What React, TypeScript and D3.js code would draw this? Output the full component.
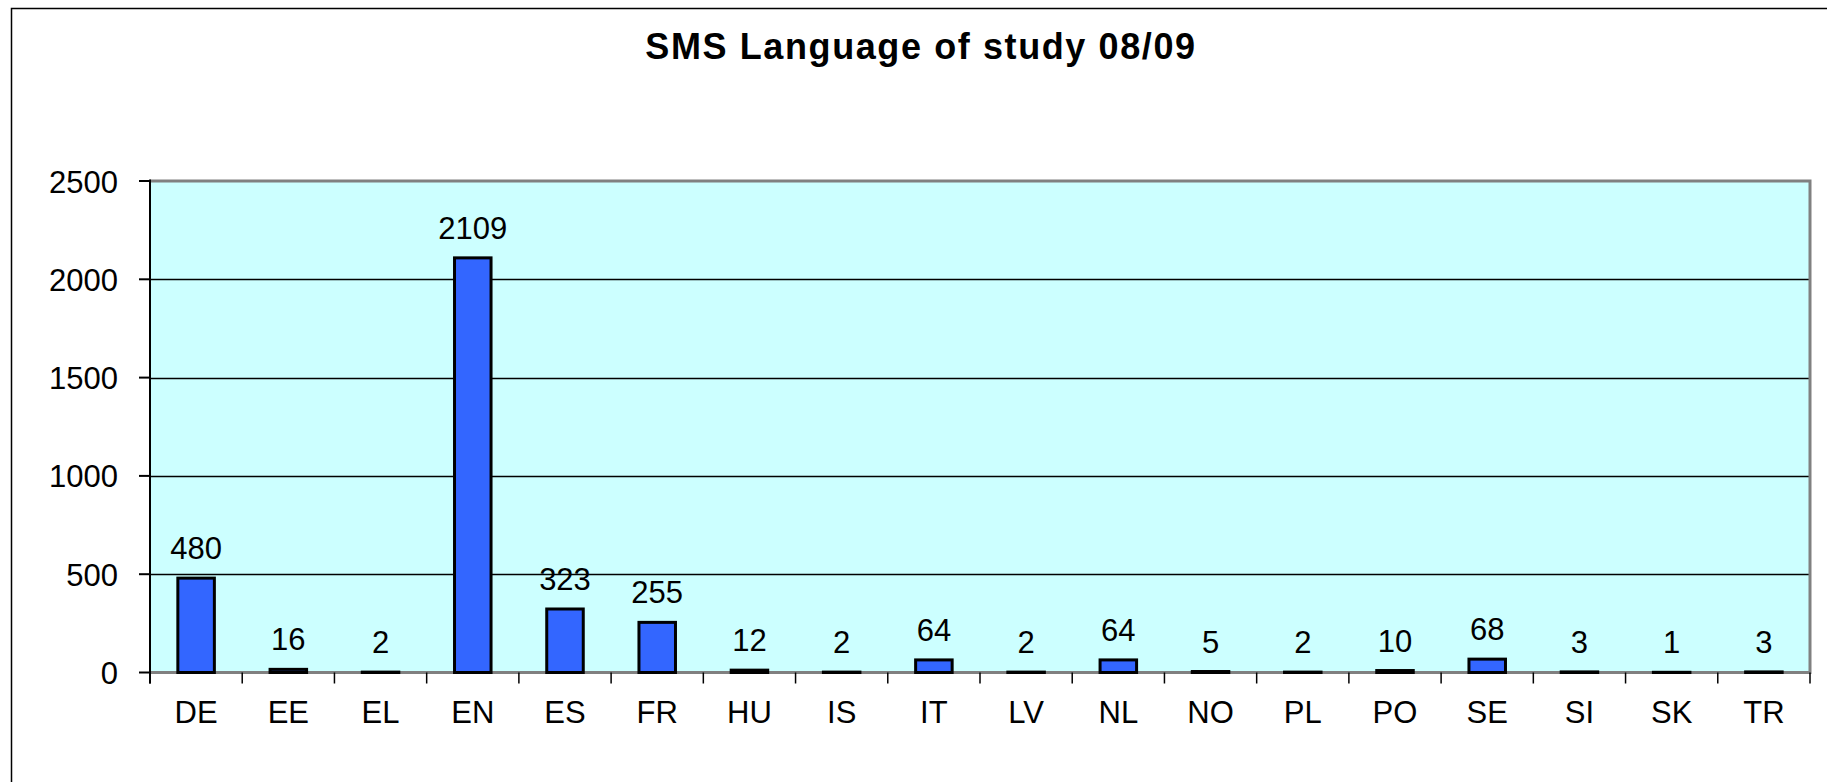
import React, { useEffect, useRef } from 'react'
import * as d3 from 'd3'

const languages = ['DE', 'EE', 'EL', 'EN', 'ES', 'FR', 'HU', 'IS', 'IT', 'LV', 'NL', 'NO', 'PL', 'PO', 'SE', 'SI', 'SK', 'TR']
const students = [480, 16, 2, 2109, 323, 255, 12, 2, 64, 2, 64, 5, 2, 10, 68, 3, 1, 3]
const yTicks = [0, 500, 1000, 1500, 2000, 2500]

const App = () => {
    const chartRef = useRef<SVGSVGElement>(null)

    useEffect(() => {
        const W = 1827
        const H = 782
        const plot = { left: 150, right: 1810, top: 181, bottom: 672.5 }
        const font = '"Liberation Sans", Arial, sans-serif'

        const svg = d3.select(chartRef.current)
        svg.selectAll('*').remove()

        svg.append('rect')
            .attr('width', W)
            .attr('height', H)
            .attr('fill', '#fff')

        // chart frame
        svg.append('rect')
            .attr('x', 11.5)
            .attr('y', 8.5)
            .attr('width', W + 20)
            .attr('height', H + 20)
            .attr('fill', 'none')
            .attr('stroke', '#000')
            .attr('stroke-width', 1.5)

        svg.append('text')
            .attr('x', 921)
            .attr('y', 59)
            .attr('text-anchor', 'middle')
            .attr('font-family', font)
            .attr('font-weight', 'bold')
            .attr('font-size', 36)
            .attr('letter-spacing', 1.6)
            .text('SMS Language of study 08/09')

        const x = d3.scaleBand()
            .domain(languages)
            .range([plot.left, plot.right])
            .paddingInner(0)
            .paddingOuter(0)

        const y = d3.scaleLinear()
            .domain([0, 2500])
            .range([plot.bottom, plot.top])

        // plot area
        svg.append('rect')
            .attr('x', plot.left)
            .attr('y', plot.top)
            .attr('width', plot.right - plot.left)
            .attr('height', plot.bottom - plot.top)
            .attr('fill', '#CCFFFF')

        // gridlines
        svg.append('g')
            .selectAll('line')
            .data(yTicks.filter(t => t > 0 && t < 2500))
            .enter()
            .append('line')
            .attr('x1', plot.left)
            .attr('x2', plot.right)
            .attr('y1', d => Math.round(y(d)) + 0.5)
            .attr('y2', d => Math.round(y(d)) + 0.5)
            .attr('stroke', '#000')
            .attr('stroke-width', 1.5)

        // gray plot border top/right/bottom
        svg.append('path')
            .attr('d', `M${plot.left},${plot.top} H${plot.right} V${plot.bottom} H${plot.left}`)
            .attr('fill', 'none')
            .attr('stroke', '#808080')
            .attr('stroke-width', 3)

        const bandW = x.bandwidth()
        const barW = bandW * 0.396

        svg.append('g')
            .selectAll('rect')
            .data(students)
            .enter()
            .append('rect')
            .attr('x', (d, i) => (x(languages[i]) as number) + bandW / 2 - barW / 2)
            .attr('y', d => y(d))
            .attr('width', barW)
            .attr('height', d => plot.bottom - y(d))
            .attr('fill', '#3366FF')
            .attr('stroke', '#000')
            .attr('stroke-width', 3)

        svg.append('g')
            .selectAll('text')
            .data(students)
            .enter()
            .append('text')
            .attr('x', (d, i) => (x(languages[i]) as number) + bandW / 2)
            .attr('y', d => y(d) - 19)
            .attr('text-anchor', 'middle')
            .attr('font-family', font)
            .attr('font-size', 31)
            .text(d => d)

        // y axis
        svg.append('line')
            .attr('x1', plot.left)
            .attr('x2', plot.left)
            .attr('y1', plot.top - 1.5)
            .attr('y2', plot.bottom + 11)
            .attr('stroke', '#000')
            .attr('stroke-width', 2)

        const yAxis = svg.append('g')
        yAxis.selectAll('line')
            .data(yTicks)
            .enter()
            .append('line')
            .attr('x1', plot.left - 11)
            .attr('x2', plot.left)
            .attr('y1', d => y(d))
            .attr('y2', d => y(d))
            .attr('stroke', '#000')
            .attr('stroke-width', 2)
        yAxis.selectAll('text')
            .data(yTicks)
            .enter()
            .append('text')
            .attr('x', 118)
            .attr('y', d => y(d) + 11.5)
            .attr('text-anchor', 'end')
            .attr('font-family', font)
            .attr('font-size', 31)
            .text(d => d)

        // x axis ticks and labels
        const xAxis = svg.append('g')
        xAxis.selectAll('line')
            .data([...languages.map(l => x(l) as number), plot.right])
            .enter()
            .append('line')
            .attr('x1', d => d)
            .attr('x2', d => d)
            .attr('y1', plot.bottom)
            .attr('y2', plot.bottom + 11)
            .attr('stroke', '#000')
            .attr('stroke-width', 1.5)
        xAxis.selectAll('text')
            .data(languages)
            .enter()
            .append('text')
            .attr('x', d => (x(d) as number) + bandW / 2)
            .attr('y', 723)
            .attr('text-anchor', 'middle')
            .attr('font-family', font)
            .attr('font-size', 31)
            .text(d => d)
    }, [])

    return (
        <svg ref={chartRef} width={1827} height={782} style={{ position: 'absolute', left: 0, top: 0 }} />
    )
}

export default App
